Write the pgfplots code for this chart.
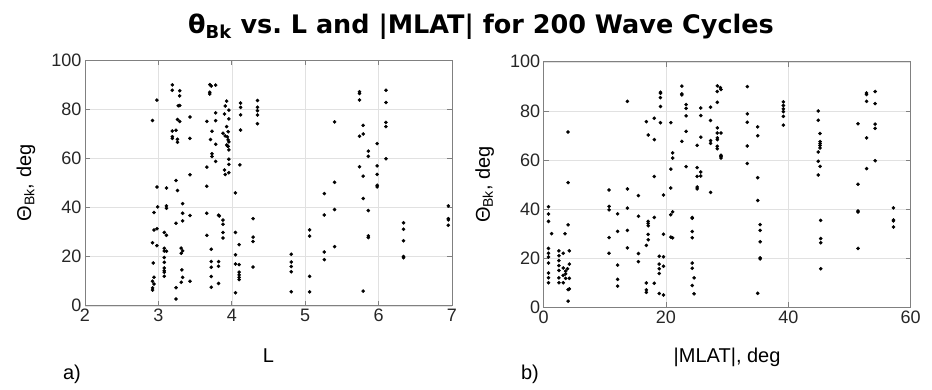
\documentclass[border=0pt]{standalone}
\usepackage{fontspec}
\setmainfont{Liberation Sans}
\newfontfamily\titlefont{DejaVu Sans Bold}
\usepackage{pgfplots}
\pgfplotsset{compat=1.18}
\definecolor{axgray}{RGB}{128,128,128}
\definecolor{gridgray}{RGB}{225,225,225}
\definecolor{ticktext}{RGB}{38,38,38}
\pgfplotsset{
 mystyle/.style={
  scale only axis, width=367pt, height=245.5pt,
  axis line style={axgray, line width=0.8pt},
  tick style={axgray, line width=0.8pt}, major tick length=5pt, tick align=inside,
  grid=major, grid style={gridgray, line width=0.6pt},
  ymin=0, ymax=100, ytick={0,20,40,60,80,100},
  tick label style={font=\fontsize{18}{20}\selectfont, text=ticktext},
  /pgf/number format/assume math mode=true,
  every axis x label/.style={font=\fontsize{20}{22}\selectfont, at={(rel axis cs:0.5,-0.2037)}, anchor=center},
  every axis y label/.style={font=\fontsize{20}{22}\selectfont, at={(rel axis cs:-0.1608,0.5)}, anchor=center, rotate=90},
 },
 dots/.style={only marks, mark=*, mark size=1.6pt, color=black, mark options={fill=black, draw=black}},
}
\begin{document}
\begin{tikzpicture}[x=1pt,y=1pt]
\path[use as bounding box] (0,0) rectangle (932,389);
\node[font=\titlefont\fontsize{25.5}{28}\selectfont] at (481,362) {θ\textsubscript{Bk} vs.\ L and |MLAT| for 200 Wave Cycles};
\node[font=\fontsize{20}{22}\selectfont] at (72,15) {a)};
\node[font=\fontsize{20}{22}\selectfont] at (530,15) {b)};
\begin{axis}[mystyle, at={(85pt,83.2pt)}, anchor=south west,
  xmin=2, xmax=7, xtick={2,3,4,5,6,7},
  xlabel={L}, ylabel={Θ\textsubscript{Bk}, deg}]
\addplot[dots] table {
3.19 90.0
3.19 87.8
3.29 87.6
3.29 85.5
2.98 83.8
3.27 81.5
3.29 81.6
2.92 75.5
3.26 75.9
3.29 75.1
3.43 76.9
3.19 71.2
3.24 71.5
3.19 68.9
3.19 68.2
3.26 67.8
3.26 66.6
3.43 68.2
3.70 90.1
3.72 89.5
3.78 89.9
3.70 87.0
3.70 86.3
3.93 83.4
3.91 81.4
3.96 79.7
3.78 78.6
3.90 78.1
3.96 76.1
3.66 75.1
3.78 75.4
3.93 73.0
3.73 71.1
3.88 70.3
3.91 69.2
3.95 70.9
3.94 68.8
3.95 67.6
3.96 66.8
3.93 65.5
3.95 64.9
3.94 65.1
3.96 63.5
3.71 67.7
3.78 65.8
3.73 61.9
3.73 60.8
3.78 58.8
3.96 59.7
3.96 57.6
3.66 56.5
3.90 55.3
3.91 53.5
3.96 54.2
3.43 53.4
3.24 51.0
2.98 48.4
3.11 48.0
3.26 47.0
3.66 48.7
4.05 46.0
4.12 82.6
4.12 80.8
4.12 77.8
4.12 71.6
4.11 57.4
4.35 83.6
4.35 80.9
4.35 79.5
4.35 77.7
4.35 74.2
3.33 41.6
2.99 40.3
3.11 40.7
3.11 39.7
2.94 38.0
3.33 37.7
3.43 36.8
3.33 34.6
3.24 33.6
3.66 37.7
3.82 36.9
3.83 36.6
3.88 34.9
3.88 33.2
4.29 35.5
2.94 30.9
2.98 31.4
3.08 29.9
3.11 28.7
3.88 29.9
3.88 27.6
3.66 28.7
4.05 29.9
2.92 25.7
2.98 24.5
4.10 24.9
4.29 28.0
4.29 26.2
3.08 23.4
3.08 22.3
3.11 22.2
3.31 23.5
3.33 22.4
3.31 21.4
3.72 23.0
4.05 20.8
2.93 17.4
3.08 19.7
3.08 17.7
3.08 15.4
3.08 14.3
3.08 13.7
3.08 12.0
3.32 14.6
3.33 11.6
3.31 9.6
3.43 10.0
3.72 18.0
3.72 15.7
3.82 18.0
3.82 16.1
4.05 17.0
4.10 16.8
4.10 13.7
4.10 12.6
4.10 11.6
4.10 10.7
4.29 15.8
2.94 11.6
2.92 10.0
2.94 8.9
2.92 7.3
2.92 6.4
3.24 7.4
3.24 2.8
3.72 11.9
3.72 7.6
3.82 9.1
4.05 5.3
5.74 87.2
5.74 86.5
5.74 83.8
6.10 87.8
6.10 82.8
5.40 74.9
5.79 73.5
5.74 69.1
5.79 70.0
6.10 74.7
6.10 73.0
5.98 66.1
5.86 63.0
5.86 60.9
6.10 59.9
5.74 56.6
5.98 57.0
5.79 52.8
5.98 53.5
5.40 50.3
5.98 49.1
5.98 48.4
5.26 45.7
5.79 43.7
5.40 39.2
5.86 38.8
5.26 37.0
6.95 40.7
6.95 35.5
6.95 35.0
6.95 32.8
6.34 33.8
6.34 31.2
6.34 26.5
6.34 20.1
6.34 19.6
5.86 28.5
5.86 27.8
5.06 30.9
5.06 28.4
5.40 24.1
5.26 21.9
5.26 18.8
4.81 21.0
4.81 17.8
4.81 16.0
4.81 13.9
5.06 12.0
4.81 5.7
5.06 5.7
5.79 6.0
};
\end{axis}
\begin{axis}[mystyle, at={(543.6pt,81.7pt)}, anchor=south west,
  xmin=0, xmax=60, xtick={0,20,40,60},
  xlabel={|MLAT|, deg}, ylabel={Θ\textsubscript{Bk}, deg}]
\addplot[dots] table {
4.0 71.4
4.0 50.8
13.7 83.9
19.1 87.6
19.1 87.2
19.1 85.4
19.1 81.8
16.8 75.6
18.1 77.0
19.1 75.2
20.8 75.2
17.1 70.2
18.1 68.3
18.1 53.3
20.8 56.3
21.1 62.9
21.1 60.8
19.6 45.7
20.8 48.6
15.5 45.5
13.7 48.2
10.7 47.8
22.6 90.1
22.6 86.9
22.6 86.5
23.3 82.6
23.3 81.0
23.3 78.0
23.3 71.7
22.6 67.6
23.3 57.3
25.7 81.2
25.7 78.1
27.3 81.5
27.3 76.1
25.7 69.3
25.1 66.0
27.3 67.9
27.3 66.8
25.1 56.9
25.7 55.1
25.7 53.5
25.1 53.3
25.1 49.0
25.1 48.2
27.3 46.8
28.4 90.2
28.4 87.9
28.9 89.5
29.0 88.7
28.4 83.5
28.4 73.1
28.4 71.0
29.0 71.0
28.4 69.0
28.4 68.3
28.4 65.6
28.4 64.6
29.0 61.9
29.0 60.8
29.0 61.4
10.7 41.1
10.7 39.7
13.7 40.4
12.1 38.1
15.5 37.1
18.1 36.6
17.1 35.0
17.1 34.2
17.1 33.2
24.3 36.6
24.3 36.3
20.8 37.7
21.1 38.9
4.0 33.6
3.5 30.0
12.1 30.9
13.7 31.3
17.1 29.7
17.1 27.5
16.8 25.2
19.6 29.8
24.3 30.9
24.3 28.3
20.8 28.6
21.1 28.3
10.7 28.4
4.2 23.0
10.7 22.0
13.7 24.2
15.5 21.9
15.5 18.6
18.9 20.8
19.6 20.6
4.2 17.6
3.9 15.7
3.6 14.7
3.6 13.6
4.2 11.8
3.6 11.8
4.2 7.5
4.0 7.2
4.0 2.5
12.1 17.2
12.1 11.4
12.1 8.6
18.9 17.6
19.6 16.7
18.9 15.7
18.9 13.8
16.8 9.9
18.1 9.8
16.8 7.1
16.8 6.1
24.3 18.0
24.3 15.9
24.6 12.0
24.3 8.9
24.6 5.5
18.9 5.6
19.6 5.0
33.3 89.9
33.3 78.8
33.3 75.4
33.3 65.7
33.3 58.6
35.0 73.5
35.0 69.9
35.0 52.8
39.2 83.7
39.2 82.2
39.2 80.8
39.2 79.7
39.2 77.8
39.2 74.2
44.9 80.0
44.9 76.2
45.2 70.8
45.2 67.5
45.2 66.7
45.2 65.9
45.2 64.9
44.9 63.3
44.9 59.5
45.2 57.4
44.9 53.9
51.4 74.8
51.4 50.1
52.8 87.3
52.8 86.7
52.8 83.9
54.2 87.9
54.2 83.0
54.2 74.6
54.2 72.9
52.8 69.0
54.2 59.7
52.8 56.5
35.0 43.5
35.4 33.7
35.4 31.3
35.4 26.7
35.4 20.1
35.4 19.7
35.0 5.7
45.3 35.4
45.3 28.0
45.3 26.3
45.3 15.7
51.4 39.2
51.4 38.8
51.4 24.0
57.2 40.5
57.2 35.6
57.2 35.2
57.2 32.7
0.8 41.0
0.8 38.0
0.8 35.0
0.8 24.0
0.8 22.0
0.8 20.5
0.8 18.0
0.8 14.0
0.8 12.0
0.8 10.0
1.3 30.0
2.5 23.0
2.5 21.0
2.5 19.0
2.5 17.0
2.5 15.0
2.5 12.0
2.5 10.0
3.2 22.0
3.2 16.0
3.2 13.0
3.2 10.0
};
\end{axis}
\end{tikzpicture}
\end{document}
